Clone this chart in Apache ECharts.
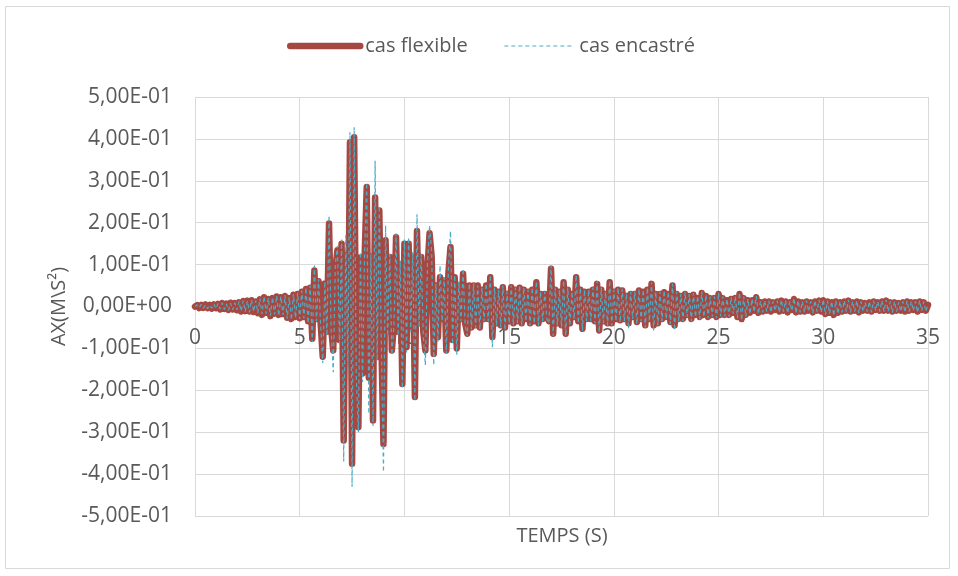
<!DOCTYPE html>
<html><head><meta charset="utf-8">
<script src="https://cdn.jsdelivr.net/npm/echarts@6/dist/echarts.min.js"></script>
<style>html,body{margin:0;padding:0;background:#fff}#c{width:958px;height:576px}</style>
</head><body><div id="c"></div>
<script>
const seriesNames = ['cas flexible', 'cas encastré'];
const timeStep = 0.1; // sampling step of the record (s)
const xTickValues = [0, 5, 10, 15, 20, 25, 30, 35];
const yTickLabels = ['5,00E-01','4,00E-01','3,00E-01','2,00E-01','1,00E-01','0,00E+00','-1,00E-01','-2,00E-01','-3,00E-01','-4,00E-01','-5,00E-01'];
const xTitle = 'TEMPS (S)';
const yTitle = 'AX(M\\S²)';

// cas flexible, t = 0 .. 35 s
const flexible = [0,
.003,-.004,.004,-.003,.005,-.004,.004,-.005,.005,-.004,
.006,-.007,.008,-.006,.007,-.008,.009,-.007,.008,-.009,
.010,-.012,.013,-.011,.014,-.012,.015,-.013,.012,-.016,
.017,-.020,.022,-.015,.018,-.023,.020,-.017,.024,-.020,
.022,-.018,.025,-.027,.020,-.030,.028,-.025,.030,-.028,
.035,-.025,.042,-.035,.045,-.077,.086,-.030,.060,-.040,
-.120,.055,-.060,.198,-.050,-.105,.090,.134,-.080,.150,
-.320,.126,-.137,.392,-.375,.404,-.150,-.288,.117,-.160,
.120,.285,-.170,.118,-.272,.260,-.120,.229,-.090,-.328,
.158,-.060,.118,-.105,-.040,.165,-.060,.100,-.185,.150,
-.097,.150,-.050,.118,-.216,.180,-.040,.118,-.060,-.105,
.090,.175,.120,-.113,.050,-.073,.070,-.030,.062,-.105,
.080,.142,-.080,.070,-.100,.050,-.030,.078,-.040,-.065,
.050,-.050,.050,-.045,.050,-.050,.040,-.030,.050,-.030,
.070,-.073,.040,-.040,.035,-.045,.046,-.050,.030,-.035,
.046,-.040,.040,-.035,.045,-.040,.040,-.030,.035,-.040,
.040,-.035,.058,-.040,.030,-.030,.030,-.025,-.035,.090,
-.065,.040,-.040,.035,-.045,.058,-.065,.040,-.040,.030,
-.025,.070,-.035,.040,-.053,.035,-.030,.035,-.030,.040,
-.035,.054,-.057,.040,-.035,.030,-.040,.058,-.040,.035,
-.030,.040,-.033,.038,-.030,.025,-.040,.030,-.025,.030,
-.037,.038,-.030,.035,-.045,.040,-.030,.054,-.045,.030,
-.040,.030,-.030,.034,-.025,.030,-.037,.050,-.045,.030,
-.030,.025,-.030,.030,-.020,.025,-.030,.028,-.020,.020,
-.025,.032,-.020,.025,-.025,.020,-.020,.020,-.025,.030,
-.020,.020,-.020,.015,-.020,.018,-.015,.020,-.025,.030,
-.030,.020,-.020,.015,-.015,.015,-.010,.022,-.015,.010,
-.012,.012,-.010,.012,-.012,.010,-.008,.012,-.012,.014,
-.010,.012,-.014,.010,-.008,.018,-.014,.012,-.012,.010,
-.012,.012,-.010,.010,-.014,.012,-.010,.014,-.012,.015,
-.018,.012,-.015,.010,-.020,.012,-.015,.010,-.012,.012,
-.010,.014,-.012,.010,-.010,.012,-.014,.010,-.010,.008,
-.010,.010,-.012,.012,-.008,.010,-.010,.012,-.010,.014,
-.010,.010,-.012,.010,-.010,.008,-.010,.010,-.012,.012,
-.010,.010,-.008,.010,-.012,.012,-.008,.010,-.010,.004];

// cas encastré, t = 0 .. 35 s
const encastre = [0,
.004,-.003,.005,-.004,.004,-.005,.003,-.004,.006,-.005,
.007,-.006,.009,-.007,.006,-.009,.008,-.008,.009,-.008,
.012,-.011,.014,-.012,.013,-.014,.016,-.012,.014,-.015,
.019,-.018,.024,-.017,.020,-.022,.022,-.019,.026,-.022,
.024,-.020,.027,-.029,.022,-.032,.030,-.027,.033,-.030,
.038,-.028,.045,-.040,.050,-.085,.098,-.035,.065,-.045,
-.135,.060,-.070,.217,-.055,-.157,.100,.145,-.090,.160,
-.370,.170,-.150,.416,-.430,.428,-.165,-.300,.130,-.180,
.130,.295,-.256,.125,-.285,.348,-.130,.240,-.100,-.395,
.193,-.070,.125,-.115,-.045,.175,-.070,.110,-.195,.160,
-.110,.165,-.060,.130,-.225,.220,-.050,.125,-.070,-.140,
.100,.193,.130,-.140,.055,-.085,.098,-.035,.070,-.113,
.090,.180,-.090,.075,-.115,.060,-.035,.090,-.045,-.070,
.055,-.055,.055,-.050,.050,-.055,.045,-.035,.055,-.035,
.075,-.097,.045,-.045,.040,-.050,.050,-.057,.035,-.040,
.050,-.045,.045,-.040,.050,-.045,.045,-.035,.040,-.045,
.045,-.040,.060,-.045,.035,-.035,.035,-.030,-.040,.098,
-.070,.045,-.045,.040,-.050,.062,-.070,.045,-.045,.035,
-.030,.075,-.040,.045,-.058,.040,-.035,.040,-.035,.045,
-.040,.060,-.062,.045,-.040,.035,-.045,.062,-.045,.040,
-.035,.045,-.038,.042,-.035,.030,-.053,.035,-.030,.035,
-.042,.042,-.035,.040,-.050,.045,-.035,.058,-.057,.035,
-.045,.035,-.035,.038,-.030,.035,-.042,.054,-.057,.035,
-.035,.030,-.035,.035,-.025,.030,-.035,.032,-.025,.025,
-.030,.036,-.025,.028,-.028,.024,-.024,.024,-.028,.033,
-.024,.024,-.024,.018,-.024,.022,-.018,.024,-.028,.033,
-.033,.024,-.024,.018,-.018,.018,-.013,.025,-.018,.013,
-.014,.014,-.012,.014,-.014,.012,-.010,.014,-.014,.016,
-.012,.014,-.016,.012,-.010,.020,-.016,.014,-.014,.012,
-.014,.014,-.012,.012,-.016,.014,-.012,.016,-.014,.017,
-.020,.014,-.017,.012,-.022,.014,-.017,.012,-.014,.014,
-.012,.016,-.014,.012,-.012,.014,-.016,.012,-.012,.010,
-.012,.012,-.014,.014,-.010,.012,-.012,.014,-.012,.016,
-.012,.012,-.014,.012,-.012,.010,-.012,.012,-.014,.014,
-.012,.012,-.010,.012,-.014,.014,-.010,.012,-.012,.005];

const times = flexible.map((_, i) => +(i * timeStep).toFixed(1));
const pairs = arr => arr.map((v, i) => [times[i], v]);

const FONT = '"Open Sans", sans-serif';
const TXT = '#595959';
const GRID = '#d9d9d9';
const RED = '#A64842';
const TEAL = '#4BACC6';

const chart = echarts.init(document.getElementById('c'), null, {renderer: 'canvas'});
chart.setOption({
  backgroundColor: '#ffffff',
  animation: false,
  textStyle: {fontFamily: FONT},
  graphic: [
    {type: 'rect', silent: true, z: -10,
     shape: {x: 5.5, y: 6.5, width: 944, height: 562},
     style: {fill: 'none', stroke: GRID, lineWidth: 1}},
    {type: 'text', silent: true, x: 562, y: 536,
     style: {text: xTitle, align: 'center', verticalAlign: 'middle',
             fontSize: 20, fontFamily: FONT, fill: TXT}}
  ],
  legend: {
    left: 287, top: 36, padding: 0,
    itemWidth: 70, itemHeight: 14, itemGap: 36,
    itemStyle: {opacity: 0},
    lineStyle: {width: 'inherit'},
    textStyle: {fontSize: 20, color: TXT, fontFamily: FONT, padding: [0, 0, 0, 0]},
    data: seriesNames
  },
  grid: {left: 195, right: 30, top: 97, bottom: 60, containLabel: false},
  xAxis: {
    type: 'value', min: xTickValues[0], max: xTickValues[xTickValues.length - 1], interval: 5,
    position: 'bottom', offset: -210,
    axisLine: {show: true, onZero: false, lineStyle: {color: GRID, width: 1}},
    axisTick: {show: false},
    axisLabel: {margin: 22, fontSize: 21, color: TXT, fontFamily: FONT},
    splitLine: {show: true, lineStyle: {color: GRID, width: 1}}
  },
  yAxis: {
    type: 'value', min: -0.5, max: 0.5, interval: 0.1,
    name: yTitle, nameLocation: 'middle', nameGap: 126,
    nameTextStyle: {fontSize: 20, color: TXT, fontFamily: FONT},
    axisLine: {show: false},
    axisTick: {show: false},
    axisLabel: {
      margin: 23, fontSize: 21, color: TXT, fontFamily: FONT,
      formatter: v => yTickLabels[Math.round((0.5 - v) / 0.1)]
    },
    splitLine: {show: true, lineStyle: {color: GRID, width: 1}}
  },
  series: [
    {name: seriesNames[0], type: 'line', data: pairs(flexible),
     symbol: 'none', showSymbol: false, z: 2,
     lineStyle: {color: RED, width: 6.5, cap: 'round', join: 'round'},
     itemStyle: {color: RED}},
    {name: seriesNames[1], type: 'line', data: pairs(encastre),
     symbol: 'none', showSymbol: false, z: 3,
     lineStyle: {color: TEAL, width: 1.2, type: [4, 3]},
     itemStyle: {color: TEAL}}
  ]
});
</script></body></html>
